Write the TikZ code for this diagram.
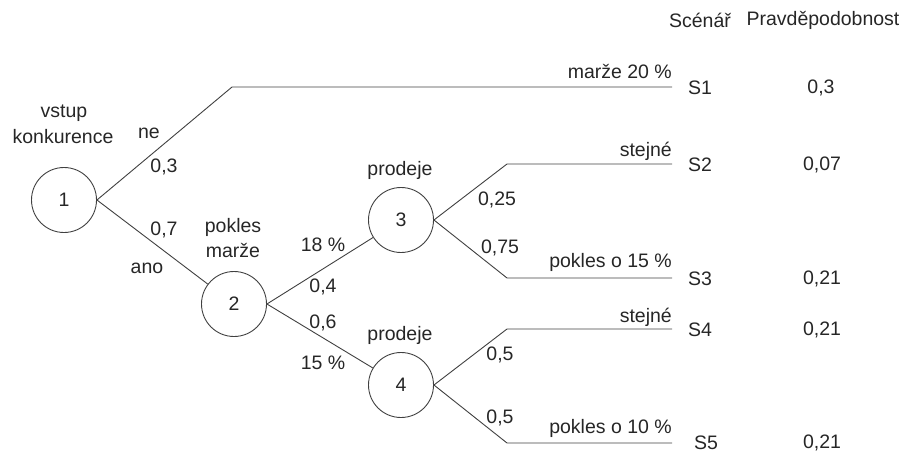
\documentclass[tikz,border=0pt]{standalone}
\usepackage{fontspec}
\setmainfont{Liberation Sans}
\begin{document}
\begin{tikzpicture}[x=1pt,y=-1pt,
  every node/.style={font=\fontsize{19.5}{22}\selectfont, text=black!85, inner sep=0pt},
  chance/.style={circle, draw=black!75, line width=0.9pt, minimum size=65pt},
  branch/.style={draw=black!75, line width=0.9pt},
  lbl/.style={anchor=center},
  endlbl/.style={anchor=base east}]
\useasboundingbox (0,0) rectangle (905,452);
% nodes
\node[chance] (n1) at (64,200) {1};
\node[chance] (n2) at (234,304) {2};
\node[chance] (n3) at (401,220) {3};
\node[chance] (n4) at (401,385) {4};
% branch corner coordinates
\coordinate (k1) at (232,87);
\coordinate (e1) at (672,87);
\coordinate (k2) at (507,164);
\coordinate (e2) at (672,164);
\coordinate (k3) at (507,278);
\coordinate (e3) at (672,278);
\coordinate (k4) at (507,329);
\coordinate (e4) at (672,329);
\coordinate (k5) at (507,443);
\coordinate (e5) at (672,443);
% connectors
\draw[branch] (n1.east) -- (k1) -- (e1);
\draw[branch] (n1.east) -- (n2);
\draw[branch] (n2.east) -- (n3);
\draw[branch] (n2.east) -- (n4);
\draw[branch] (n3.east) -- (k2) -- (e2);
\draw[branch] (n3.east) -- (k3) -- (e3);
\draw[branch] (n4.east) -- (k4) -- (e4);
\draw[branch] (n4.east) -- (k5) -- (e5);
% header
\node[lbl] (hs) at (700,20) {Scénář};
\node[lbl] (hp) at (823,20) {Pravděpodobnost};
% scenarios
\node[lbl] (s1) at (700,88) {S1};
\node[lbl] (p1) at (821,88) {0,3};
\node[lbl] (s2) at (700,165) {S2};
\node[lbl] (p2) at (822,165) {0,07};
\node[lbl] (s3) at (700,279) {S3};
\node[lbl] (p3) at (822,279) {0,21};
\node[lbl] (s4) at (700,330) {S4};
\node[lbl] (p4) at (822,330) {0,21};
\node[lbl] (s5) at (706,443) {S5};
\node[lbl] (p5) at (822,443) {0,21};
% end labels
\node[endlbl] (m1) at (672,78) {marže 20 \%};
\node[endlbl] (m2) at (672,156) {stejné};
\node[endlbl] (m3) at (672,267) {pokles o 15 \%};
\node[endlbl] (m4) at (672,322) {stejné};
\node[endlbl] (m5) at (672,433) {pokles o 10 \%};
% branch labels
\node[lbl] (t1a) at (64,113) {vstup};
\node[lbl] (t1b) at (63,137) {konkurence};
\node[lbl] (ne) at (149,133) {ne};
\node[lbl] (p03) at (164,167) {0,3};
\node[lbl] (p07) at (164,230) {0,7};
\node[lbl] (ano) at (147,268) {ano};
\node[lbl] (t2a) at (233,227) {pokles};
\node[lbl] (t2b) at (233,250) {marže};
\node[lbl] (r18) at (323,245) {18 \%};
\node[lbl] (p04) at (323,287) {0,4};
\node[lbl] (p06) at (323,323) {0,6};
\node[lbl] (r15) at (323,363) {15 \%};
\node[lbl] (t3) at (400,170) {prodeje};
\node[lbl] (t4) at (400,335) {prodeje};
\node[lbl] (p025) at (497,200) {0,25};
\node[lbl] (p075) at (500,248) {0,75};
\node[lbl] (p05a) at (500,355) {0,5};
\node[lbl] (p05b) at (500,418) {0,5};
\end{tikzpicture}
\end{document}
